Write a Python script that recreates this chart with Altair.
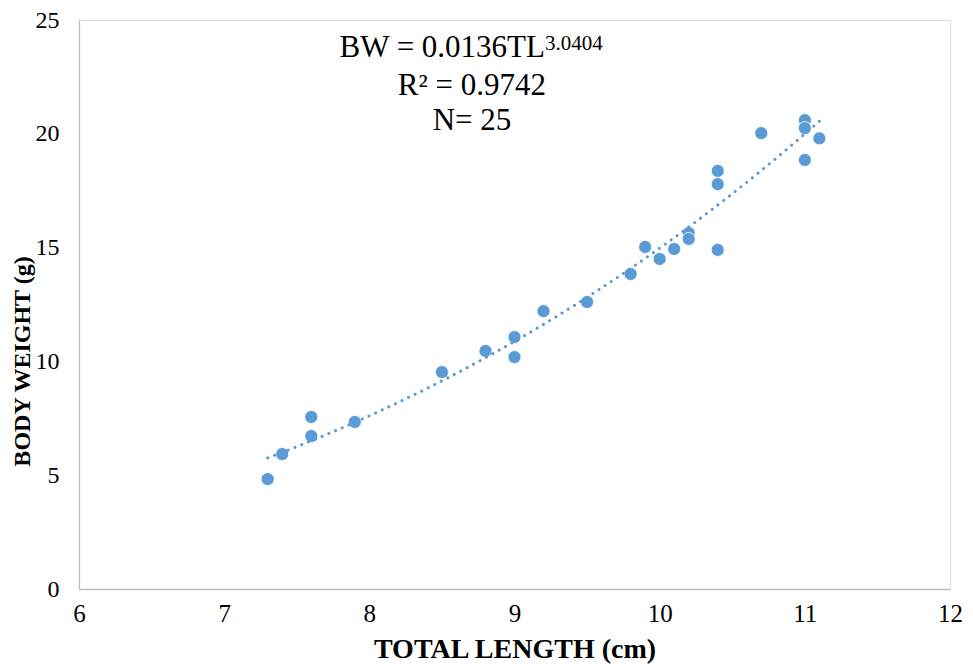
import altair as alt
import pandas as pd

total_length = [7.3, 7.4, 7.6, 7.6, 7.9, 8.5, 8.8, 9.0, 9.0, 9.2, 9.5, 9.8, 9.9,
                10.0, 10.1, 10.2, 10.2, 10.4, 10.4, 10.4, 10.7, 11.0, 11.0, 11.0, 11.1]
body_weight = [4.83, 5.93, 7.56, 6.72, 7.34, 9.53, 10.46, 11.07, 10.19, 12.21, 12.61, 13.84, 15.03,
               14.50, 14.94, 15.64, 15.38, 18.37, 17.79, 14.90, 20.03, 20.60, 20.25, 18.85, 19.80]

x_ticks = [6, 7, 8, 9, 10, 11, 12]
y_ticks = [0, 5, 10, 15, 20, 25]

eq_main = ["BW = 0.0136TL"]
eq_sup = ["3.0404"]
eq_lines = ["R² = 0.9742", "N= 25"]

df = pd.DataFrame({"TL": total_length, "BW": body_weight})

BLUE = "#5B9BD5"
FONT = "Liberation Serif"

xs = alt.Scale(domain=[6, 12], nice=False, zero=False)
ys = alt.Scale(domain=[0, 25], nice=False)

x_axis = alt.Axis(values=x_ticks, format="d", title="TOTAL LENGTH (cm)", grid=False, ticks=False,
                  labelFlush=False, labelOverlap=False, labelPadding=12, labelFontSize=25,
                  labelFont=FONT, labelColor="black", titleFont=FONT, titleFontSize=28,
                  titleFontWeight="bold", titleColor="black", titleY=68,
                  titleBaseline="alphabetic", domainColor="#BFBFBF", domainWidth=1.3)
y_axis = alt.Axis(values=y_ticks, format="d", title="BODY WEIGHT (g)", grid=False, ticks=False,
                  labelPadding=20, labelFontSize=24, labelFont=FONT, labelColor="black",
                  labelOverlap=False, labelFlush=False,
                  titleFont=FONT, titleFontSize=24, titleFontWeight="bold", titleColor="black",
                  titleAngle=-90, titleX=-57, titleY=341, titleAlign="center",
                  titleBaseline="middle", domainColor="#BFBFBF", domainWidth=1.3)

points = alt.Chart(df).mark_point(filled=True, size=170, opacity=1, color=BLUE,
                                  stroke="white", strokeWidth=0.8).encode(
    x=alt.X("TL:Q", scale=xs, axis=x_axis),
    y=alt.Y("BW:Q", scale=ys, axis=y_axis),
)

trend = alt.Chart(df).transform_regression("TL", "BW", method="pow").mark_line(
    color=BLUE, strokeWidth=3, strokeDash=[0.1, 7.2], strokeCap="round").encode(
    x=alt.X("TL:Q", scale=xs),
    y=alt.Y("BW:Q", scale=ys),
)

main_df = pd.DataFrame({"t": eq_main, "x": [9.21], "y": [23.37]})
sup_df = pd.DataFrame({"t": eq_sup, "x": [9.21], "y": [23.68]})
lines_df = pd.DataFrame({"t": eq_lines, "x": [8.707, 8.707], "y": [21.70, 20.17]})

t_main = alt.Chart(main_df).mark_text(font=FONT, fontSize=31, align="right",
                                      baseline="alphabetic", color="black").encode(
    x=alt.X("x:Q", scale=xs), y=alt.Y("y:Q", scale=ys), text="t:N")
t_sup = alt.Chart(sup_df).mark_text(font=FONT, fontSize=21, align="left",
                                    baseline="alphabetic", color="black").encode(
    x=alt.X("x:Q", scale=xs), y=alt.Y("y:Q", scale=ys), text="t:N")
t_lines = alt.Chart(lines_df).mark_text(font=FONT, fontSize=31, align="center",
                                        baseline="alphabetic", color="black").encode(
    x=alt.X("x:Q", scale=xs), y=alt.Y("y:Q", scale=ys), text="t:N")

chart = alt.layer(points, trend, t_main, t_sup, t_lines).properties(
    width=871, height=569,
    autosize=alt.AutoSizeParams(type="none"),
    padding={"left": 71, "top": 12, "right": 15, "bottom": 75},
).configure_view(stroke=None).configure(background="white")

chart.save("out.html", embed_options={"renderer": "svg", "actions": False})
